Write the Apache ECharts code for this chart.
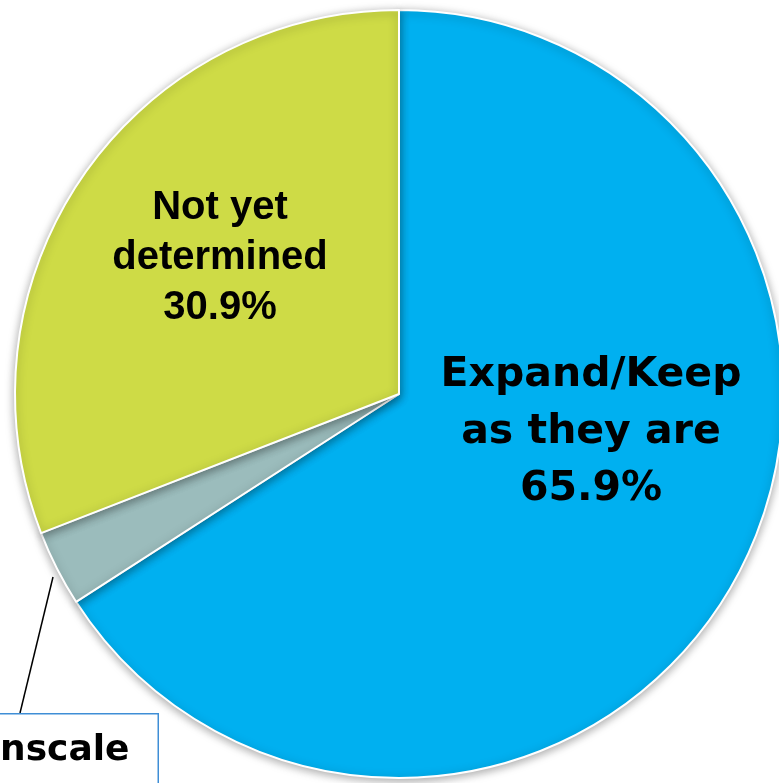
<!DOCTYPE html>
<html>
<head>
<meta charset="utf-8">
<script src="https://cdn.jsdelivr.net/npm/echarts@6/dist/echarts.min.js"></script>
<style>
html,body{margin:0;padding:0;background:#fff;}
#chart{width:779px;height:783px;}
</style>
</head>
<body>
<div id="chart"></div>
<script>
// Data
const categories = ['Expand/Keep\nas they are', 'Downscale', 'Not yet\ndetermined'];
const values = [65.9, 3.2, 30.9];
const colors = ['#00B0F0', '#9BBCBC', '#CEDB46'];

const chart = echarts.init(document.getElementById('chart'), null, {renderer: 'canvas'});

const data = categories.map((c, i) => {
  const item = { name: c, value: values[i], itemStyle: { color: colors[i] } };
  if (i === 0) {
    item.label = { position: 'inside', fontFamily: 'DejaVu Sans', fontSize: 41, lineHeight: 57 };
  } else if (i === 1) {
    item.label = {
      position: 'outside',
      fontFamily: 'DejaVu Sans',
      fontSize: 36,
      lineHeight: 56,
      backgroundColor: '#fff',
      borderColor: '#3F8ED6',
      borderWidth: 1.5,
      padding: [8, 28, 8, 28]
    };
    item.labelLine = { show: true, length: 10, length2: 0, lineStyle: { color: '#000', width: 1.5 } };
  } else {
    item.label = { position: 'inside', fontFamily: 'Liberation Sans', fontSize: 40, lineHeight: 50 };
  }
  return item;
});

chart.setOption({
  animation: false,
  series: [{
    type: 'pie',
    center: [399, 394],
    radius: [0, 384],
    startAngle: 90,
    clockwise: true,
    avoidLabelOverlap: false,
    itemStyle: {
      borderColor: '#fff',
      borderWidth: 2,
      shadowBlur: 10,
      shadowColor: 'rgba(0,0,0,0.35)',
      shadowOffsetX: 0,
      shadowOffsetY: 2
    },
    label: {
      show: true,
      color: '#000',
      fontWeight: 'bold',
      align: 'center',
      formatter: p => p.name + '\n' + p.value.toFixed(1) + '%'
    },
    labelLine: { show: false },
    labelLayout: function (params) {
      const r = params.labelRect;
      if (params.dataIndex === 0) {
        return { x: 591, y: 432, align: 'center', verticalAlign: 'middle' };
      }
      if (params.dataIndex === 2) {
        return { x: 220, y: 258, align: 'center', verticalAlign: 'middle' };
      }
      return {
        x: 159 - r.width / 2, y: 713 + r.height / 2, align: 'center', verticalAlign: 'middle',
        labelLinePoints: [[53, 577], [20, 713], [20, 713]]
      };
    },
    data: data
  }]
});
</script>
</body>
</html>
